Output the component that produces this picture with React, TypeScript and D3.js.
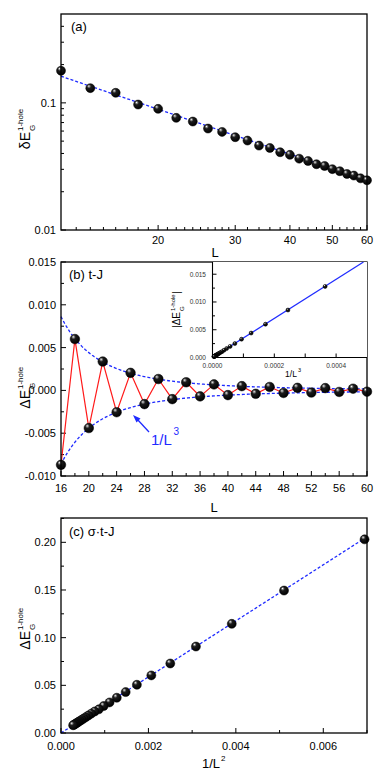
import React from 'react';
import * as d3 from 'd3';

// ---------- Data ----------
const L_A = [12, 14, 16, 18, 20, 22, 24, 26, 28, 30, 32, 34, 36, 38, 40, 42, 44, 46, 48, 50, 52, 54, 56, 58, 60];
const dE_A = [0.179, 0.1305, 0.12, 0.097, 0.0897, 0.0762, 0.0713, 0.0628, 0.0591, 0.0537, 0.0505, 0.0461, 0.0442,
  0.0409, 0.039, 0.0364, 0.0349, 0.0329, 0.0319, 0.0301, 0.029, 0.0276, 0.0268, 0.0255, 0.0246];
const FIT_A_COEF = 2.973;
const FIT_A_EXP = 1.171;
const A_XTICKS = [20, 30, 40, 50, 60];
const A_XMINOR = [13, 14, 15, 16, 17, 18, 19, 21, 22, 23, 24, 25, 26, 27, 28, 29, 32, 34, 36, 38, 42, 44, 46, 48, 52, 54, 56, 58];
const A_YTICKS = [0.01, 0.1];
const A_YMINOR = [0.02, 0.03, 0.04, 0.05, 0.06, 0.07, 0.08, 0.09, 0.2, 0.3, 0.4];

const L_B = [16, 18, 20, 22, 24, 26, 28, 30, 32, 34, 36, 38, 40, 42, 44, 46, 48, 50, 52, 54, 56, 58, 60];
const dE_B = [-0.0087, 0.006, -0.0044, 0.00337, -0.00255, 0.00205, -0.0016, 0.00133, -0.00102, 0.00095, -0.0007,
  0.0007, -0.00055, 0.0005, -0.0004, 0.0004, -0.0003, 0.0003, -0.00025, 0.00027, -0.00018, 0.0002, -0.00015];
const ENV_B = 35.3;
const B_XTICKS = [16, 20, 24, 28, 32, 36, 40, 44, 48, 52, 56, 60];
const B_XMINOR = [18, 22, 26, 30, 34, 38, 42, 46, 50, 54, 58];
const B_YTICKS = [-0.01, -0.005, 0, 0.005, 0.01, 0.015];
const B_YMINOR = [-0.0075, -0.0025, 0.0025, 0.0075, 0.0125];

const L_IN = [14, 16, 18, 20, 22, 24, 26, 28, 30, 32, 34, 36, 38, 40, 42, 44, 46, 48, 50, 52, 54, 56, 58, 60];
const absE_IN = [0.0128, 0.00855, 0.006, 0.0044, 0.0033, 0.0025, 0.002, 0.0016, 0.0013, 0.00105, 0.0009, 0.00075,
  0.00065, 0.00055, 0.00048, 0.00042, 0.00036, 0.00032, 0.00028, 0.00025, 0.00022, 0.0002, 0.00018, 0.00016];
const IN_SLOPE = 35.2;
const IN_XTICKS = [0, 0.0002, 0.0004];
const IN_XMINOR = [0.0001, 0.0003];
const IN_YTICKS = [0, 0.005, 0.01, 0.015];
const IN_YMINOR = [0.0025, 0.0075, 0.0125];

const L_C = [12, 14, 16, 18, 20, 22, 24, 26, 28, 30, 32, 34, 36, 38, 40, 42, 44, 46, 48, 50, 52, 54, 56, 58, 60];
const dE_C = [0.2031, 0.1494, 0.1145, 0.0907, 0.0729, 0.0604, 0.0506, 0.0429, 0.037, 0.0321, 0.0283, 0.0248, 0.0226,
  0.0203, 0.0183, 0.0166, 0.0151, 0.0138, 0.0127, 0.0117, 0.0108, 0.01, 0.0093, 0.0087, 0.0081];
const C_SLOPE = 29.4;
const C_XTICKS = [0, 0.002, 0.004, 0.006];
const C_XMINOR = [0.001, 0.003, 0.005, 0.007];
const C_YTICKS = [0, 0.05, 0.1, 0.15, 0.2];
const C_YMINOR = [0.025, 0.075, 0.125, 0.175, 0.225];

// ---------- Style ----------
const FONT = 'Liberation Sans, Arial, Helvetica, sans-serif';
const BLUE = '#1f2bff';
const RED = '#ff1a1a';
const X0 = 61, X1 = 367;

// ---------- Scales ----------
const xA = d3.scaleLog().domain([12, 60]).range([X0, X1]);
const yA = d3.scaleLog().domain([0.01, 0.5]).range([230, 14]);
const xB = d3.scaleLinear().domain([16, 60]).range([X0, X1]);
const yB = d3.scaleLinear().domain([-0.01, 0.015]).range([476, 262]);
const xIn = d3.scaleLinear().domain([0, 0.0005]).range([212.5, X1]);
const yIn = d3.scaleLinear().domain([0, 0.0172]).range([357.5, 262]);
const xC = d3.scaleLinear().domain([0, 0.007]).range([X0, X1]);
const yC = d3.scaleLinear().domain([0, 0.2255]).range([733, 518]);

function Ball({ x, y, r }: { x: number; y: number; r: number }) {
  return <circle cx={x} cy={y} r={r} fill="url(#ball)" stroke="#000" strokeWidth={0.5} />;
}

function XTicks({ sc, vals, y, len }: any) {
  return <g>{vals.map((v: number, i: number) => (
    <line key={i} x1={sc(v)} x2={sc(v)} y1={y} y2={y - len} stroke="#000" strokeWidth={1} />
  ))}</g>;
}
function YTicks({ sc, vals, x, len }: any) {
  return <g>{vals.map((v: number, i: number) => (
    <line key={i} x1={x} x2={x + len} y1={sc(v)} y2={sc(v)} stroke="#000" strokeWidth={1} />
  ))}</g>;
}

function YLabel({ x, y, main, size = 14, supSize = 8, bars = false }: any) {
  return (
    <g transform={`translate(${x},${y}) rotate(-90)`} fontFamily={FONT} fill="#000">
      <text x={-1} y={0} fontSize={size} textAnchor="end">{bars ? '|' + main : main}</text>
      <text x={0} y={-size * 0.5} fontSize={supSize}>1-hole</text>
      <text x={0} y={size * 0.36} fontSize={supSize}>G</text>
      {bars && <text x={supSize * 2.85} y={0} fontSize={size}>|</text>}
    </g>
  );
}

export default function App() {
  const fitA = d3.line<number>().x((L) => xA(L)).y((L) => yA(FIT_A_COEF * Math.pow(L, -FIT_A_EXP)));
  const sampA = d3.range(12, 60.01, 0.5);
  const envUp = d3.line<number>().x((L) => xB(L)).y((L) => yB(ENV_B / (L * L * L)));
  const envLo = d3.line<number>().x((L) => xB(L)).y((L) => yB(-ENV_B / (L * L * L)));
  const sampB = d3.range(16, 60.01, 0.25);
  const redLine = d3.line<number>().x((_, i) => xB(L_B[i])).y((d) => yB(d));
  const inMax = 0.0172 / IN_SLOPE;
  const fmt3 = d3.format('.3f');
  const fmt2 = d3.format('.2f');
  const fmt4 = d3.format('.4f');

  return (
    <svg width={388} height={775} style={{ position: 'absolute', left: 0, top: 0, background: '#fff' }}>
      <defs>
        <radialGradient id="ball" cx="40%" cy="35%" r="65%" fx="33%" fy="27%">
          <stop offset="0%" stopColor="#ffffff" />
          <stop offset="12%" stopColor="#9a9a9a" />
          <stop offset="35%" stopColor="#1c1c1c" />
          <stop offset="100%" stopColor="#000000" />
        </radialGradient>
        <clipPath id="clipA"><rect x={X0} y={14} width={X1 - X0} height={216} /></clipPath>
        <clipPath id="clipIn"><rect x={212.5} y={262} width={X1 - 212.5} height={95.5} /></clipPath>
      </defs>

      {/* ---------- Panel (a) ---------- */}
      <g>
        <XTicks sc={xA} vals={A_XTICKS} y={230} len={5} />
        <XTicks sc={xA} vals={A_XMINOR} y={230} len={3} />
        <YTicks sc={yA} vals={A_YTICKS} x={X0} len={5} />
        <YTicks sc={yA} vals={A_YMINOR} x={X0} len={3} />
        <path d={fitA(sampA) || ''} fill="none" stroke={BLUE} strokeWidth={1.3} strokeDasharray="3,2" clipPath="url(#clipA)" />
        {L_A.map((L, i) => <Ball key={i} x={xA(L)} y={yA(dE_A[i])} r={4.5} />)}
        <rect x={X0} y={14} width={X1 - X0} height={216} fill="none" stroke="#000" strokeWidth={1.3} />
        {A_XTICKS.map((v, i) => (
          <text key={i} x={xA(v)} y={244} fontSize={11} fontFamily={FONT} textAnchor="middle">{v}</text>
        ))}
        {A_YTICKS.map((v, i) => (
          <text key={i} x={56} y={yA(v) + 4} fontSize={11} fontFamily={FONT} textAnchor="end">{v === 0.1 ? '0.1' : '0.01'}</text>
        ))}
        <text x={215} y={257} fontSize={13} fontFamily={FONT} textAnchor="middle">L</text>
        <text x={71} y={31} fontSize={13} fontFamily={FONT}>(a)</text>
        <YLabel x={30} y={131} main="δE" />
      </g>

      {/* ---------- Panel (b) ---------- */}
      <g>
        <XTicks sc={xB} vals={B_XTICKS} y={476} len={5} />
        <XTicks sc={xB} vals={B_XMINOR} y={476} len={3} />
        <YTicks sc={yB} vals={B_YTICKS} x={X0} len={5} />
        <YTicks sc={yB} vals={B_YMINOR} x={X0} len={3} />
        <path d={envUp(sampB) || ''} fill="none" stroke={BLUE} strokeWidth={1.3} strokeDasharray="3,2" />
        <path d={envLo(sampB) || ''} fill="none" stroke={BLUE} strokeWidth={1.3} strokeDasharray="3,2" />
        <path d={redLine(dE_B) || ''} fill="none" stroke={RED} strokeWidth={1.2} />
        {L_B.map((L, i) => <Ball key={i} x={xB(L)} y={yB(dE_B[i])} r={4.8} />)}
        <rect x={X0} y={262} width={X1 - X0} height={214} fill="none" stroke="#000" strokeWidth={1.3} />
        {B_XTICKS.map((v, i) => (
          <text key={i} x={xB(v)} y={492} fontSize={11} fontFamily={FONT} textAnchor="middle">{v}</text>
        ))}
        {B_YTICKS.map((v, i) => (
          <text key={i} x={56} y={yB(v) + 4} fontSize={11} fontFamily={FONT} textAnchor="end">{fmt3(v).replace('−', '-')}</text>
        ))}
        <text x={214} y={512} fontSize={13} fontFamily={FONT} textAnchor="middle">L</text>
        <text x={69} y={279} fontSize={13} fontFamily={FONT}>(b) t-J</text>
        <YLabel x={30} y={389} main="ΔE" />
        {/* annotation */}
        <line x1={149} y1={432} x2={137} y2={419} stroke={BLUE} strokeWidth={1.3} />
        <path d="M133,415 L140.5,418.5 L136.5,422.5 Z" fill={BLUE} />
        <text x={151} y={445} fontSize={15} fontFamily={FONT} fill={BLUE}>1/L</text>
        <text x={173.5} y={435} fontSize={10} fontFamily={FONT} fill={BLUE}>3</text>

        {/* inset */}
        <rect x={212.5} y={262} width={X1 - 212.5} height={95.5} fill="#fff" />
        <XTicks sc={xIn} vals={IN_XTICKS} y={357.5} len={4} />
        <XTicks sc={xIn} vals={IN_XMINOR} y={357.5} len={4} />
        <YTicks sc={yIn} vals={IN_YTICKS} x={212.5} len={4} />
        <YTicks sc={yIn} vals={IN_YMINOR} x={212.5} len={2.5} />
        <line x1={xIn(0)} y1={yIn(0)} x2={xIn(inMax)} y2={yIn(IN_SLOPE * inMax)} stroke={BLUE} strokeWidth={1.2} clipPath="url(#clipIn)" />
        {L_IN.map((L, i) => <Ball key={i} x={xIn(1 / (L * L * L))} y={yIn(absE_IN[i])} r={2} />)}
        <line x1={212.5} y1={262} x2={212.5} y2={357.5} stroke="#000" strokeWidth={1.1} />
        <line x1={212.5} y1={357.5} x2={X1} y2={357.5} stroke="#000" strokeWidth={1.1} />
        {IN_XTICKS.map((v, i) => (
          <text key={i} x={xIn(v)} y={368} fontSize={6.5} fontFamily={FONT} fill="#333" textAnchor="middle">{fmt4(v)}</text>
        ))}
        {IN_YTICKS.map((v, i) => (
          <text key={i} x={206} y={yIn(v) + 2.3} fontSize={6.5} fontFamily={FONT} fill="#333" textAnchor="end">{fmt3(v)}</text>
        ))}
        <text x={291} y={377} fontSize={8.5} fontFamily={FONT} textAnchor="middle">1/L</text>
        <text x={298} y={372} fontSize={5.5} fontFamily={FONT}>3</text>
        <YLabel x={180} y={311} main="ΔE" size={10} supSize={6} bars />
      </g>

      {/* ---------- Panel (c) ---------- */}
      <g>
        <XTicks sc={xC} vals={C_XTICKS} y={733} len={5} />
        <XTicks sc={xC} vals={C_XMINOR} y={733} len={3} />
        <YTicks sc={yC} vals={C_YTICKS} x={X0} len={5} />
        <YTicks sc={yC} vals={C_YMINOR} x={X0} len={3} />
        <line x1={xC(0)} y1={yC(0)} x2={xC(0.007)} y2={yC(C_SLOPE * 0.007)} stroke={BLUE} strokeWidth={1.3} strokeDasharray="3,2" />
        {L_C.map((L, i) => <Ball key={i} x={xC(1 / (L * L))} y={yC(dE_C[i])} r={4.5} />)}
        <rect x={X0} y={518} width={X1 - X0} height={215} fill="none" stroke="#000" strokeWidth={1.3} />
        {C_XTICKS.map((v, i) => (
          <text key={i} x={xC(v)} y={750} fontSize={11} fontFamily={FONT} textAnchor="middle">{fmt3(v)}</text>
        ))}
        {C_YTICKS.map((v, i) => (
          <text key={i} x={56} y={yC(v) + 4} fontSize={11} fontFamily={FONT} textAnchor="end">{fmt2(v)}</text>
        ))}
        <text x={211} y={768} fontSize={13} fontFamily={FONT} textAnchor="middle">1/L</text>
        <text x={221} y={761} fontSize={8} fontFamily={FONT}>2</text>
        <text x={69} y={536} fontSize={13} fontFamily={FONT}>(c) σ·t-J</text>
        <YLabel x={30} y={630} main="ΔE" />
      </g>
    </svg>
  );
}
